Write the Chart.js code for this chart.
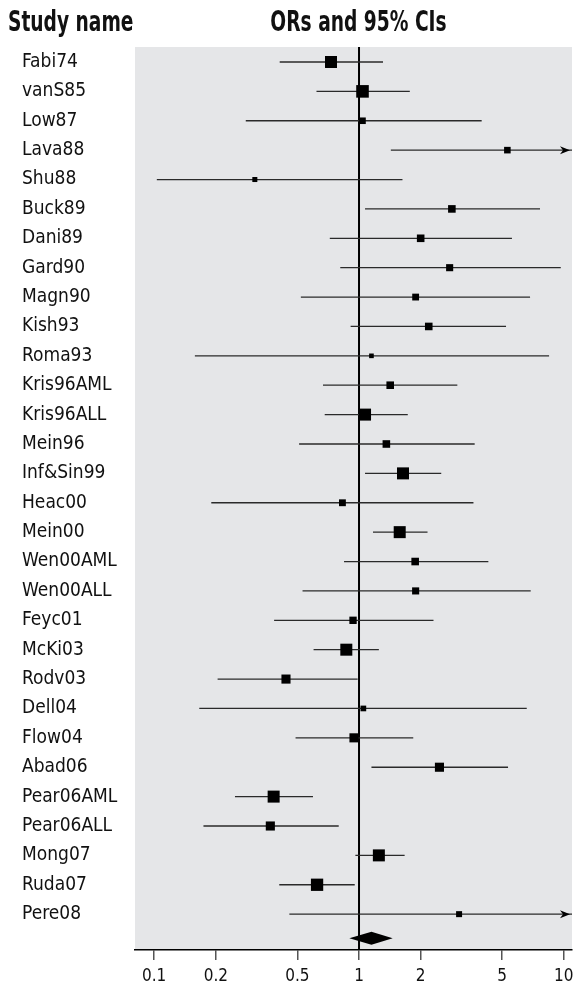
<!DOCTYPE html>
<html>
<head>
<meta charset="utf-8">
<script src="https://cdn.jsdelivr.net/npm/chart.js@4/dist/chart.umd.min.js"></script>
<style>
  html, body { margin: 0; padding: 0; background: #fff; }
  #wrap { width: 582px; height: 993px; }
</style>
</head>
<body>
<div id="wrap"><canvas id="forest"></canvas></div>
<script>
// study rows, top to bottom
const studies = ['Fabi74', 'vanS85', 'Low87', 'Lava88', 'Shu88', 'Buck89', 'Dani89', 'Gard90',
  'Magn90', 'Kish93', 'Roma93', 'Kris96AML', 'Kris96ALL', 'Mein96', 'Inf&Sin99', 'Heac00',
  'Mein00', 'Wen00AML', 'Wen00ALL', 'Feyc01', 'McKi03', 'Rodv03', 'Dell04', 'Flow04',
  'Abad06', 'Pear06AML', 'Pear06ALL', 'Mong07', 'Ruda07', 'Pere08'];
const orValues = [0.73, 1.04, 1.04, 5.30, 0.31, 2.84, 2.00, 2.77, 1.89, 2.19, 1.15, 1.42, 1.07, 1.36, 1.64,
  0.83, 1.58, 1.88, 1.89, 0.935, 0.867, 0.44, 1.05, 0.945, 2.47, 0.383, 0.369, 1.25, 0.624, 3.08];
const ciLower = [0.41, 0.62, 0.28, 1.43, 0.103, 1.07, 0.72, 0.81, 0.52, 0.91, 0.158, 0.667, 0.68, 0.51, 1.07,
  0.19, 1.17, 0.845, 0.53, 0.385, 0.60, 0.204, 0.166, 0.49, 1.15, 0.248, 0.174, 0.96, 0.408, 0.457];
const ciUpper = [1.31, 1.77, 3.97, 19.6, 1.63, 7.65, 5.58, 9.66, 6.84, 5.22, 8.47, 3.02, 1.73, 3.67, 2.52,
  3.62, 2.16, 4.28, 6.89, 2.31, 1.25, 0.985, 6.59, 1.84, 5.34, 0.596, 0.796, 1.67, 0.953, 20.8];
// relative study weights (box area)
const weights = [4.0, 4.4, 1.2, 1.2, 0.7, 1.6, 1.6, 1.4, 1.3, 1.6, 0.6, 1.6, 4.0, 1.6, 4.0,
  1.3, 4.0, 1.6, 1.4, 1.5, 4.0, 2.3, 0.9, 2.3, 2.3, 4.0, 2.3, 4.0, 4.2, 1.0];
// pooled estimate
const pooledOr = 1.15;
const pooledLower = 0.897;
const pooledUpper = 1.46;
const summaryRow = 29.82;
const xTicks = [0.1, 0.2, 0.5, 1, 2, 5, 10];

const FONT = "'Liberation Sans Narrow', 'DejaVu Sans Condensed', 'Arial Narrow', sans-serif";
const INK = '#111';

// CI whiskers, one line per study
const ciSets = studies.map((name, i) => ({
  type: 'line',
  label: name + ' CI',
  data: [{ x: ciLower[i], y: i }, { x: ciUpper[i], y: i }],
  borderColor: '#2a2a2a',
  borderWidth: 1.3,
  pointRadius: 0,
  order: 2
}));

const boxSet = {
  type: 'scatter',
  label: 'OR',
  data: studies.map((name, i) => ({ x: orValues[i], y: i })),
  pointStyle: 'rect',
  pointRadius: weights.map(w => 6 * Math.sqrt(w) / Math.SQRT2),
  backgroundColor: '#000',
  borderWidth: 0,
  order: 0
};

function condensedText(ctx, text, x, y, align, squeeze) {
  ctx.save();
  ctx.translate(x, y);
  ctx.scale(squeeze, 1);
  ctx.textAlign = align;
  ctx.fillText(text, 0, 0);
  ctx.restore();
}

const forestExtras = {
  id: 'forestExtras',
  beforeDraw(chart) {
    const { ctx, chartArea: a } = chart;
    ctx.save();
    ctx.fillStyle = '#e5e6e8';
    ctx.fillRect(a.left, a.top, a.right - a.left, a.bottom - a.top);
    ctx.restore();
  },
  beforeDatasetsDraw(chart) {
    const { ctx, chartArea: a, scales } = chart;
    const x1 = scales.x.getPixelForValue(1);
    ctx.save();
    ctx.strokeStyle = '#000';
    ctx.lineWidth = 2;
    ctx.beginPath();
    ctx.moveTo(x1, a.top);
    ctx.lineTo(x1, a.bottom);
    ctx.stroke();
    ctx.restore();
  },
  afterDatasetsDraw(chart) {
    const { ctx, chartArea: a, scales } = chart;
    const xs = scales.x, ys = scales.y;
    ctx.save();
    ctx.fillStyle = '#000';
    // arrows for CIs running off the axis
    ciUpper.forEach((hi, i) => {
      if (hi <= xs.max) return;
      const y = ys.getPixelForValue(i);
      const tip = a.right - 2;
      ctx.beginPath();
      ctx.moveTo(tip, y);
      ctx.lineTo(tip - 10, y - 4);
      ctx.lineTo(tip - 7, y);
      ctx.lineTo(tip - 10, y + 4);
      ctx.closePath();
      ctx.fill();
    });
    // pooled diamond
    const yd = ys.getPixelForValue(summaryRow);
    const xl = xs.getPixelForValue(pooledLower);
    const xm = xs.getPixelForValue(pooledOr);
    const xr = xs.getPixelForValue(pooledUpper);
    ctx.beginPath();
    ctx.moveTo(xl, yd);
    ctx.lineTo(xm, yd - 6.5);
    ctx.lineTo(xr, yd);
    ctx.lineTo(xm, yd + 6.5);
    ctx.closePath();
    ctx.fill();
    ctx.restore();
  },
  afterDraw(chart) {
    const { ctx, chartArea: a } = chart;
    ctx.save();
    ctx.fillStyle = INK;
    ctx.font = 'bold 28px ' + FONT;
    ctx.textBaseline = 'middle';
    condensedText(ctx, 'Study name', 8, 24, 'left', 0.74);
    condensedText(ctx, 'ORs and 95% CIs', (a.left + a.right) / 2 + 5, 24, 'center', 0.74);
    ctx.restore();
  }
};

new Chart(document.getElementById('forest'), {
  data: { datasets: [...ciSets, boxSet] },
  options: {
    responsive: true,
    maintainAspectRatio: false,
    animation: false,
    events: [],
    layout: { padding: { left: 22, right: 10, top: 47, bottom: 0 } },
    plugins: { legend: { display: false }, tooltip: { enabled: false } },
    scales: {
      x: {
        type: 'logarithmic',
        position: 'bottom',
        min: 0.0806,
        max: 10.96,
        afterBuildTicks: s => { s.ticks = xTicks.map(v => ({ value: v })); },
        afterFit: s => { s.height = 43; },
        ticks: {
          callback: v => String(v),
          autoSkip: false,
          maxRotation: 0,
          color: INK,
          padding: 6,
          font: { family: FONT, size: 17 }
        },
        grid: { drawOnChartArea: false, drawTicks: true, tickLength: 10, color: '#555', lineWidth: 1.5 },
        border: { display: true, color: '#000', width: 1.5 }
      },
      y: {
        type: 'linear',
        reverse: true,
        min: -0.51,
        max: 30.22,
        afterBuildTicks: s => { s.ticks = studies.map((n, i) => ({ value: i })); },
        afterFit: s => { s.width = 113; },
        ticks: {
          callback: v => studies[v],
          autoSkip: false,
          crossAlign: 'far',
          padding: 0,
          color: INK,
          font: { family: FONT, size: 19 }
        },
        grid: { display: false, drawTicks: false },
        border: { display: false }
      }
    }
  },
  plugins: [forestExtras]
});
</script>
</body>
</html>
